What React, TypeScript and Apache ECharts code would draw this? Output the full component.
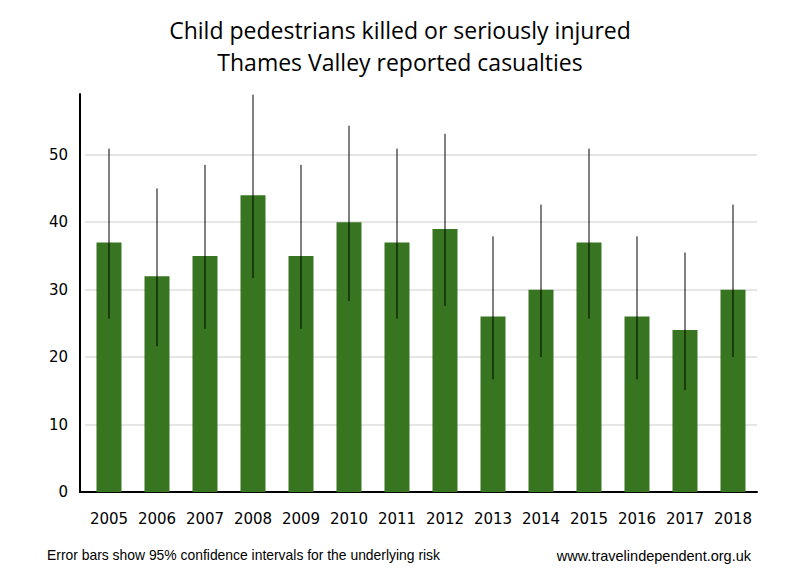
import React, { useEffect, useRef } from "react";
import * as echarts from "echarts";

const years = ["2005","2006","2007","2008","2009","2010","2011","2012","2013","2014","2015","2016","2017","2018"];
const casualties = [37, 32, 35, 44, 35, 40, 37, 39, 26, 30, 37, 26, 24, 30];
const lowerCI = [25.7, 21.6, 24.2, 31.7, 24.2, 28.3, 25.7, 27.6, 16.7, 20.0, 25.7, 16.7, 15.1, 20.0];
const upperCI = [50.9, 45.0, 48.5, 58.9, 48.5, 54.3, 50.9, 53.1, 37.9, 42.6, 50.9, 37.9, 35.5, 42.6];
const yTicks = [0, 10, 20, 30, 40, 50];

export default function App() {
  const ref = useRef<HTMLDivElement>(null);
  useEffect(() => {
    document.body.style.margin = "0";
    if (!ref.current) return;
    const chart = echarts.init(ref.current, null, { renderer: "svg" });
    const errData = years.map((_, i) => [i, lowerCI[i], upperCI[i]]);
    chart.setOption({
      animation: false,
      backgroundColor: "#ffffff",
      textStyle: { fontFamily: "DejaVu Sans" },
      title: [
        {
          text: "Child pedestrians killed or seriously injured\nThames Valley reported casualties",
          left: "center",
          top: 9,
          textStyle: { fontFamily: "Open Sans", fontSize: 23, fontWeight: "normal", color: "#000", lineHeight: 32 },
        },
        {
          text: "Error bars show 95% confidence intervals for the underlying risk",
          left: 42,
          top: 543,
          textStyle: { fontFamily: "Liberation Sans", fontSize: 13.9, fontWeight: "normal", color: "#000" },
        },
        {
          text: "www.travelindependent.org.uk",
          right: 44,
          top: 543,
          textStyle: { fontFamily: "Liberation Sans", fontSize: 14.5, fontWeight: "normal", color: "#000" },
        },
      ],
      grid: { left: 85, right: 43, top: 94, bottom: 88, containLabel: false },
      xAxis: {
        type: "category",
        data: years,
        axisLine: { show: true, lineStyle: { color: "#000", width: 2 } },
        axisTick: { show: false },
        axisLabel: { fontSize: 15, color: "#000", margin: 19, interval: 0, fontFamily: "DejaVu Sans" },
      },
      yAxis: {
        type: "value",
        min: 0,
        max: 59,
        interval: 10,
        offset: 5,
        axisLine: { show: true, lineStyle: { color: "#000", width: 2 } },
        axisTick: { show: false },
        axisLabel: {
          fontSize: 15,
          color: "#000",
          margin: 12,
          showMaxLabel: false,
          fontFamily: "DejaVu Sans",
          formatter: (v: number) => (yTicks.includes(v) ? String(v) : ""),
        },
        splitLine: { show: true, showMinLine: false, showMaxLine: false, lineStyle: { color: "#e6e6e6", width: 2 } },
      },
      graphic: [
        { type: "line", shape: { x1: 79, y1: 492, x2: 86, y2: 492 }, style: { stroke: "#000", lineWidth: 2 } },
      ],
      series: [
        {
          type: "bar",
          data: casualties,
          barWidth: 25,
          itemStyle: { color: "#377521" },
        },
        {
          type: "custom",
          data: errData,
          encode: { x: 0, y: [1, 2] },
          z: 10,
          renderItem: (params: any, api: any) => {
            const x = api.value(0);
            const lo = api.coord([x, api.value(1)]);
            const hi = api.coord([x, api.value(2)]);
            return {
              type: "line",
              shape: { x1: lo[0], y1: lo[1], x2: hi[0], y2: hi[1] },
              style: { stroke: "#000", lineWidth: 1 },
            };
          },
        },
      ],
    });
    return () => chart.dispose();
  }, []);
  return <div ref={ref} style={{ width: 800, height: 580 }} />;
}
